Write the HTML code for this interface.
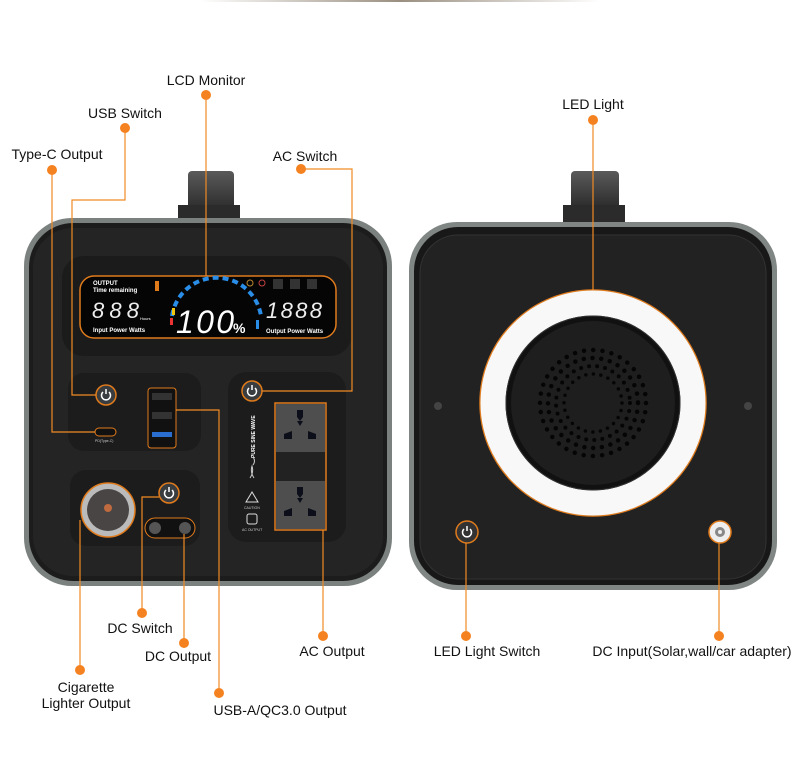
<!DOCTYPE html>
<html><head><meta charset="utf-8"><style>
html,body{margin:0;padding:0;background:#fff;}
svg{display:block;}
text{font-family:"Liberation Sans Narrow","Liberation Sans",sans-serif;}
</style></head><body>
<svg width="800" height="761" viewBox="0 0 800 761" xmlns="http://www.w3.org/2000/svg">
<defs>
<linearGradient id="tg" x1="0" x2="1"><stop offset="0" stop-color="#fff"/><stop offset="0.5" stop-color="#9a8f80"/><stop offset="1" stop-color="#fff"/></linearGradient>
<linearGradient id="hd" x1="0" y1="0" x2="0" y2="1"><stop offset="0" stop-color="#5a5a5a"/><stop offset="1" stop-color="#2a2a2a"/></linearGradient>
<g id="sock">
<path d="M-3 -18 h6 v7 l-3 4 l-3 -4 z" fill="#0c0f1a"/>
<path d="M-3 -7 h6 l-3 5 z" fill="#0c0f1a"/>
<path d="M-16 6 l8 -3 v8 h-8 z" fill="#0c0f1a"/>
<path d="M16 6 l-8 -3 v8 h8 z" fill="#0c0f1a"/>
</g>
</defs>
<rect x="200" y="0" width="400" height="2" fill="url(#tg)"/>

<!-- LEFT DEVICE -->
<rect x="188" y="171" width="46" height="40" rx="4" fill="url(#hd)"/>
<rect x="178" y="205" width="62" height="16" fill="#2b2b2b"/>
<rect x="24" y="218" width="368" height="368" rx="48" fill="#7b817f"/>
<rect x="29" y="223" width="358" height="358" rx="44" fill="#1c1c1c"/>
<rect x="33" y="228" width="350" height="348" rx="40" fill="#242424"/>
<rect x="62" y="256" width="290" height="100" rx="22" fill="#1b1b1b"/>
<rect x="80" y="276" width="256" height="62" rx="14" fill="#050505" stroke="#e07b1c" stroke-width="1.5"/>
<text x="93" y="285" font-size="6" fill="#fff" font-weight="bold" font-family="Liberation Sans">OUTPUT</text>
<text x="93" y="292" font-size="6" fill="#fff" font-weight="bold" font-family="Liberation Sans">Time remaining</text>
<rect x="155" y="281" width="4" height="10" fill="#e07b1c"/>
<text x="92" y="318" font-size="22" fill="#eee" font-family="Liberation Mono" font-style="italic" textLength="47">888</text>
<text x="140" y="320" font-size="4" fill="#fff" font-family="Liberation Sans">Hours</text>
<text x="93" y="332" font-size="6" fill="#fff" font-weight="bold" font-family="Liberation Sans">Input Power  Watts</text>
<path d="M172 316 A45 45 0 0 1 261 316" fill="none" stroke="#2a8ee8" stroke-width="4" stroke-dasharray="6 4"/>
<rect x="170" y="318" width="3" height="7" fill="#e33"/>
<rect x="172" y="308" width="3" height="7" fill="#f1c40f"/>
<text x="176" y="333" font-size="32" fill="#fff" font-family="Liberation Sans" font-style="italic" textLength="58">100</text>
<text x="233" y="333" font-size="14" fill="#fff" font-weight="bold" font-family="Liberation Sans">%</text>
<rect x="256" y="320" width="3" height="9" fill="#2a8ee8"/>
<circle cx="250" cy="283" r="3" fill="none" stroke="#b8862c"/>
<circle cx="262" cy="283" r="3" fill="none" stroke="#c04040"/>
<rect x="273" y="279" width="10" height="10" fill="#333"/><rect x="290" y="279" width="10" height="10" fill="#333"/><rect x="307" y="279" width="10" height="10" fill="#333"/>
<text x="266" y="318" font-size="22" fill="#eee" font-family="Liberation Mono" font-style="italic" textLength="56">1888</text>
<text x="266" y="333" font-size="6" fill="#fff" font-weight="bold" font-family="Liberation Sans">Output Power  Watts</text>

<!-- panels -->
<rect x="68" y="373" width="133" height="78" rx="16" fill="#1c1c1c"/>
<rect x="70" y="470" width="130" height="76" rx="16" fill="#1c1c1c"/>
<rect x="228" y="372" width="118" height="170" rx="18" fill="#1c1c1c"/>
<g fill="#3a3d40" stroke="#e07b1c" stroke-width="1.5">
<circle cx="106" cy="395" r="10"/><circle cx="169" cy="493" r="10"/><circle cx="252" cy="391" r="10"/>
</g>
<g fill="none" stroke="#fff" stroke-width="1.5">
<path d="M103 392 a4.5 4.5 0 1 0 6 0 M106 389 v5"/>
<path d="M166 490 a4.5 4.5 0 1 0 6 0 M169 487 v5"/>
<path d="M249 388 a4.5 4.5 0 1 0 6 0 M252 385 v5"/>
</g>
<rect x="95" y="428" width="21" height="8" rx="4" fill="#111" stroke="#e07b1c"/>
<text x="95" y="442" font-size="3.5" fill="#ccc" font-family="Liberation Sans">PD(Type-C)</text>
<rect x="148" y="388" width="28" height="60" rx="3" fill="#111" stroke="#e07b1c"/>
<rect x="152" y="393" width="20" height="7" fill="#333"/><rect x="152" y="412" width="20" height="7" fill="#333"/><rect x="152" y="432" width="20" height="5" fill="#2a6fd0"/>
<circle cx="108" cy="510" r="27" fill="#bbb" stroke="#e07b1c" stroke-width="1.5"/>
<circle cx="108" cy="510" r="21" fill="#4a4545"/>
<circle cx="108" cy="508" r="4" fill="#c06a40"/>
<rect x="145" y="518" width="50" height="20" rx="10" fill="#111" stroke="#e07b1c"/>
<circle cx="155" cy="528" r="6" fill="#555"/><circle cx="185" cy="528" r="6" fill="#555"/>
<rect x="275" y="403" width="51" height="127" fill="#222" stroke="#e07b1c" stroke-width="1.5"/>
<rect x="276" y="404" width="49" height="48" fill="#4e4e4e"/>
<rect x="276" y="481" width="49" height="48" fill="#4e4e4e"/>
<use href="#sock" x="300" y="428"/>
<use href="#sock" x="300" y="505"/>
<text x="0" y="0" font-size="5" fill="#fff" font-weight="bold" font-family="Liberation Sans" transform="translate(255,458) rotate(-90)">PURE SINE WAVE</text>
<path d="M253 465 q3 -4 0 -8 M250 478 q4 -6 2 -12 q-2 6 2 12" fill="none" stroke="#ccc" stroke-width="1"/>
<path d="M246 502 l6 -10 l6 10 z" fill="none" stroke="#ddd" stroke-width="1"/>
<text x="244" y="509" font-size="3.5" fill="#ccc" font-family="Liberation Sans">CAUTION</text>
<rect x="247" y="514" width="10" height="10" rx="2" fill="none" stroke="#ddd"/>
<text x="242" y="531" font-size="3.5" fill="#ccc" font-family="Liberation Sans">AC OUTPUT</text>

<!-- RIGHT DEVICE -->
<rect x="571" y="171" width="48" height="38" rx="4" fill="url(#hd)"/>
<rect x="563" y="205" width="62" height="18" fill="#2b2b2b"/>
<rect x="409" y="222" width="368" height="368" rx="48" fill="#7f8683"/>
<rect x="414" y="227" width="358" height="358" rx="44" fill="#181818"/>
<rect x="420" y="235" width="346" height="344" rx="38" fill="#222" stroke="#333"/>
<circle cx="593" cy="403" r="113" fill="#111" stroke="#e07b1c" stroke-width="1.5"/>
<circle cx="593" cy="403" r="100" fill="none" stroke="#f8f8f8" stroke-width="25"/>
<circle cx="593" cy="403" r="87" fill="none" stroke="#333" stroke-width="1"/>
<circle cx="593" cy="403" r="82" fill="#1e1e1e"/>
<g fill="none" stroke="#050505" stroke-linecap="round">
<circle cx="593" cy="403" r="53" stroke-width="4.5" stroke-dasharray="0 9.25"/>
<circle cx="593" cy="403" r="45" stroke-width="4.5" stroke-dasharray="0 8.8"/>
<circle cx="593" cy="403" r="37" stroke-width="4" stroke-dasharray="0 8.1"/>
<circle cx="593" cy="403" r="29" stroke-width="3.5" stroke-dasharray="0 7.6"/>
</g>
<circle cx="438" cy="406" r="4" fill="#444"/><circle cx="748" cy="406" r="4" fill="#444"/>
<circle cx="467" cy="532" r="11" fill="#333" stroke="#e07b1c" stroke-width="1.5"/>
<path d="M464 529 a4.5 4.5 0 1 0 6 0 M467 526 v5" fill="none" stroke="#fff" stroke-width="1.5"/>
<circle cx="720" cy="532" r="11" fill="#eee" stroke="#e07b1c" stroke-width="1.5"/>
<circle cx="720" cy="532" r="5" fill="#888"/><circle cx="720" cy="532" r="2" fill="#eee"/>

<!-- connectors -->
<g fill="none" stroke="#f08a24" stroke-width="1.2">
<path d="M206 95 V276"/>
<path d="M125 128 V200 H72 V395 H96"/>
<path d="M52 170 V432 H95"/>
<path d="M301 169 H352 V391 H262"/>
<path d="M593 120 V290"/>
<path d="M142 613 V497 H159"/>
<path d="M184 643 V534"/>
<path d="M80 670 V520"/>
<path d="M219 693 V410 H176"/>
<path d="M323 636 V530"/>
<path d="M466 636 V543"/>
<path d="M719 636 V543"/>
</g>
<g fill="#f58220">
<circle cx="206" cy="95" r="5"/><circle cx="125" cy="128" r="5"/><circle cx="52" cy="170" r="5"/><circle cx="301" cy="169" r="5"/>
<circle cx="593" cy="120" r="5"/><circle cx="142" cy="613" r="5"/><circle cx="184" cy="643" r="5"/><circle cx="80" cy="670" r="5"/>
<circle cx="219" cy="693" r="5"/><circle cx="323" cy="636" r="5"/><circle cx="466" cy="636" r="5"/><circle cx="719" cy="636" r="5"/>
</g>
<g font-size="14" fill="#111">
<text x="206" y="85" text-anchor="middle">LCD Monitor</text>
<text x="125" y="118" text-anchor="middle">USB Switch</text>
<text x="57" y="159" text-anchor="middle">Type-C Output</text>
<text x="305" y="161" text-anchor="middle">AC Switch</text>
<text x="593" y="109" text-anchor="middle">LED Light</text>
<text x="140" y="633" text-anchor="middle">DC Switch</text>
<text x="178" y="661" text-anchor="middle">DC Output</text>
<text x="86" y="692" text-anchor="middle">Cigarette</text>
<text x="86" y="708" text-anchor="middle">Lighter Output</text>
<text x="280" y="715" text-anchor="middle">USB-A/QC3.0 Output</text>
<text x="332" y="656" text-anchor="middle">AC Output</text>
<text x="487" y="656" text-anchor="middle">LED Light Switch</text>
<text x="692" y="656" text-anchor="middle">DC Input(Solar,wall/car adapter)</text>
</g>
</svg>
</body></html>
